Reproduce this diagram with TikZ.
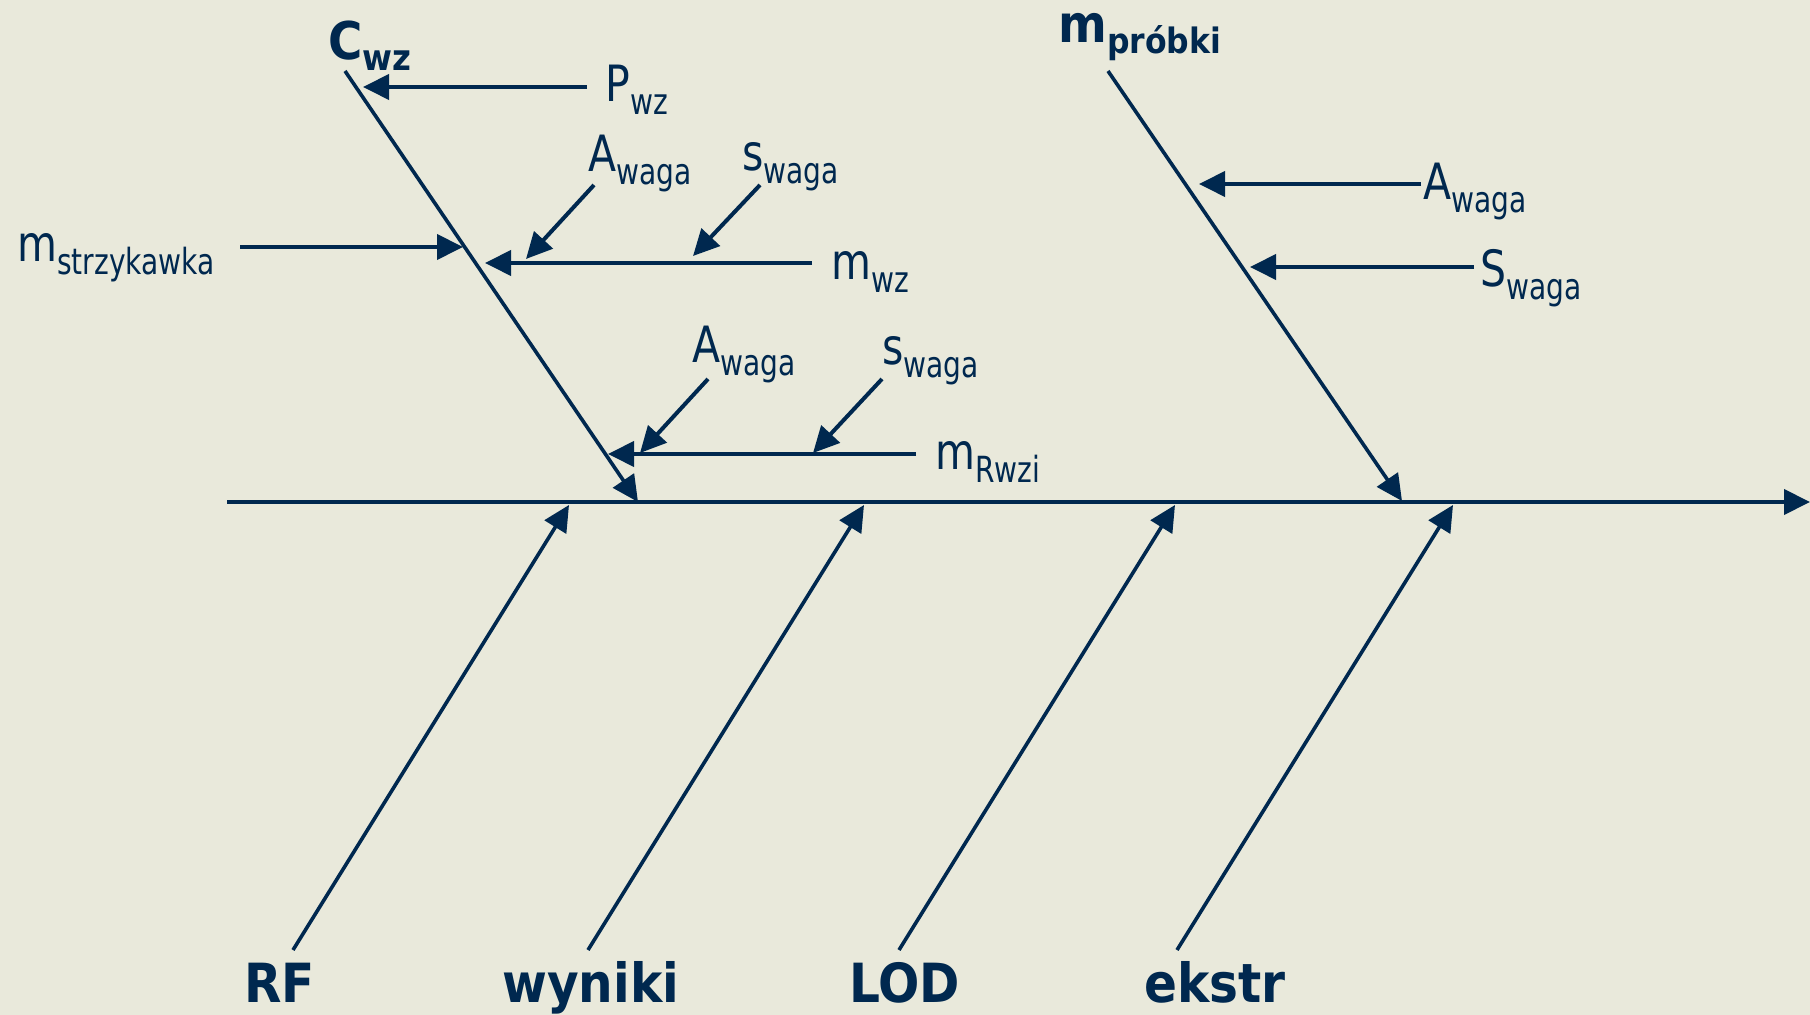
\documentclass[tikz,border=0pt]{standalone}
\usepackage{fontspec}
\setmainfont{DejaVu Sans}
\newfontfamily\regf{DejaVu Sans}[FakeStretch=0.82]
\newfontfamily\subf{DejaVu Sans}[FakeStretch=0.78]
\newfontfamily\boldf{DejaVu Sans}[FakeStretch=0.9,UprightFont=* Bold]
\usetikzlibrary{arrows.meta}
\definecolor{ink}{HTML}{00284F}
\definecolor{bg}{HTML}{E9E9DB}
\newcommand{\lbl}[2]{#1\raisebox{-6.5pt}{\subf\fontsize{18}{20}\selectfont #2}}
\newcommand{\blbl}[3]{#1\raisebox{-5.5pt}{\boldf\fontsize{#3}{20}\selectfont #2}}
\begin{document}
\begin{tikzpicture}[x=0.5pt,y=-0.5pt,
  lab/.style={anchor=base west, inner sep=0pt, text=ink, font=\regf\fontsize{25}{28}\selectfont},
  blab/.style={anchor=base west, inner sep=0pt, text=ink, font=\boldf\fontsize{26}{28}\selectfont},
  catlab/.style={anchor=base west, inner sep=0pt, text=ink, font=\boldf\fontsize{27}{30}\selectfont},
  arr/.style={draw=ink, line width=2pt, -{Triangle[length=13pt,width=12.5pt]}},
  bone/.style={draw=ink, line width=1.8pt, -{Triangle[length=13pt,width=12.5pt]}},
]
\fill[bg] (0,0) rectangle (1810,1015);
\useasboundingbox (0,0) rectangle (1810,1015);

% spine
\coordinate (spineL) at (227,502);
\coordinate (spineR) at (1810,502);
\draw[arr] (spineL) -- (spineR);

% upper-left bone C_wz
\node[blab] (cwz) at (328,60) {\blbl{C}{wz}{18}};
\coordinate (cwzTop) at (345,71);
\coordinate (cwzTip) at (638,502);
\draw[bone] (cwzTop) -- (cwzTip);

\node[lab] (pwz) at (605,102) {\lbl{P}{wz}};
\coordinate (pwzS) at (587,87); \coordinate (pwzT) at (363,87);
\draw[arr] (pwzS) -- (pwzT);

\node[lab] (mstrz) at (17,262) {\lbl{m}{strzykawka}};
\coordinate (mstrzS) at (240,247); \coordinate (mstrzT) at (463,247);
\draw[arr] (mstrzS) -- (mstrzT);

\node[lab] (mwz) at (831,280) {\lbl{m}{wz}};
\coordinate (mwzS) at (812,263); \coordinate (mwzT) at (485,263);
\draw[arr] (mwzS) -- (mwzT);

\node[lab] (aw1) at (588,172) {\lbl{A}{waga}};
\coordinate (aw1S) at (594,185); \coordinate (aw1T) at (526,259);
\draw[arr] (aw1S) -- (aw1T);

\node[lab] (sw1) at (742,171) {\lbl{s}{waga}};
\coordinate (sw1S) at (760,185); \coordinate (sw1T) at (693,256);
\draw[arr] (sw1S) -- (sw1T);

\node[lab] (mrw) at (935,470) {\lbl{m}{Rwzi}};
\coordinate (mrwS) at (916,454); \coordinate (mrwT) at (608,454);
\draw[arr] (mrwS) -- (mrwT);

\node[lab] (aw2) at (692,363) {\lbl{A}{waga}};
\coordinate (aw2S) at (708,379); \coordinate (aw2T) at (640,453);
\draw[arr] (aw2S) -- (aw2T);

\node[lab] (sw2) at (882,365) {\lbl{s}{waga}};
\coordinate (sw2S) at (882,379); \coordinate (sw2T) at (813,453);
\draw[arr] (sw2S) -- (sw2T);

% upper-right bone m_probki
\node[blab] (mpr) at (1058,43) {\blbl{m}{próbki}{17.5}};
\coordinate (mprTop) at (1108,71);
\coordinate (mprTip) at (1402,501);
\draw[bone] (mprTop) -- (mprTip);

\node[lab] (aw3) at (1423,200) {\lbl{A}{waga}};
\coordinate (aw3S) at (1421,184); \coordinate (aw3T) at (1199,184);
\draw[arr] (aw3S) -- (aw3T);

\node[lab] (sw3) at (1480,287) {\lbl{S}{waga}};
\coordinate (sw3S) at (1474,267); \coordinate (sw3T) at (1250,267);
\draw[arr] (sw3S) -- (sw3T);

% lower bones
\node[catlab] (rf) at (244,1002) {RF};
\node[catlab] (wyn) at (502,1002) {wyniki};
\node[catlab] (lod) at (849,1002) {LOD};
\node[catlab] (eks) at (1144,1002) {ekstr};
\coordinate (rfB) at (293,950);  \coordinate (rfT) at (569,505);
\coordinate (wynB) at (588,950); \coordinate (wynT) at (864,505);
\coordinate (lodB) at (899,950); \coordinate (lodT) at (1175,505);
\coordinate (eksB) at (1177,950); \coordinate (eksT) at (1453,505);
\draw[bone] (rfB) -- (rfT);
\draw[bone] (wynB) -- (wynT);
\draw[bone] (lodB) -- (lodT);
\draw[bone] (eksB) -- (eksT);
\end{tikzpicture}
\end{document}
